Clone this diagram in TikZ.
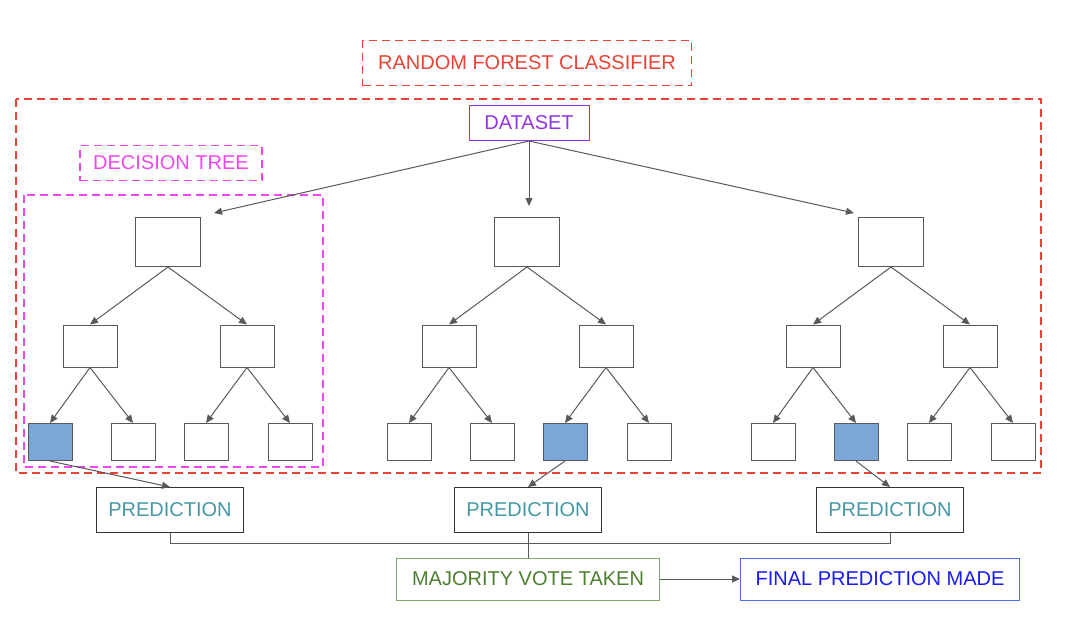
\documentclass[tikz,border=0pt]{standalone}
\usepackage{fontspec}
\setmainfont{Liberation Sans}
\usetikzlibrary{positioning,arrows.meta}
\definecolor{forestred}{HTML}{EA4335}
\definecolor{treepink}{HTML}{F046F0}
\definecolor{setpurple}{HTML}{9334E6}
\definecolor{predteal}{HTML}{4599A5}
\definecolor{votegreen}{HTML}{4E7F2F}
\definecolor{voteedge}{HTML}{7FAA66}
\definecolor{finalblue}{HTML}{1A1AF5}
\definecolor{finaledge}{HTML}{4A6CF0}
\definecolor{leafblue}{HTML}{7BA7D6}
\definecolor{linegray}{HTML}{595959}
\tikzset{arrow/.style={draw=linegray,->,>={Triangle[length=8pt,width=7pt]},line width=1pt,#1}}
\tikzset{arrow/.default={linegray}}
\tikzset{font={\fontsize{20pt}{24pt}\selectfont}}
\tikzset{treebox/.style={draw=linegray,fill=white,line width=1pt,inner sep=0pt}}
\tikzset{dashbox/.style={draw=#1,text=#1,line width=1.6pt,dash pattern=on 8pt off 5pt,inner sep=0pt}}
\tikzset{labelbox/.style={line width=1pt,inner sep=0pt,minimum height=#1}}
\begin{document}
\begin{tikzpicture}[x=1pt,y=-1pt]
        \useasboundingbox (0,0) rectangle (1080,635);
        \draw[dashbox=forestred] (16,99) rectangle (1041,473);
        \draw[dashbox=treepink] (24,195) rectangle (323,467);
        \node[dashbox=forestred,minimum width=329,minimum height=45] (title) at (527,63) {RANDOM FOREST CLASSIFIER};
        \node[labelbox=35,draw=setpurple,text=setpurple,minimum width=120] (data) at (529,123) {DATASET};
        \node[dashbox=treepink,minimum width=182,minimum height=35] (tree) at (171,163) {DECISION TREE};
        % three trees
        \foreach \t/\r/\hit in {1/168/1, 2/527/3, 3/891/2}{
            \node[treebox,minimum width=65,minimum height=49] (r\t) at (\r,242) {};
            \node[treebox,minimum width=54,minimum height=42] (m\t1) at ({\r-78},346) {};
            \node[treebox,minimum width=54,minimum height=42] (m\t2) at ({\r+79},346) {};
            \foreach \k/\dx in {1/-118, 2/-35, 3/38, 4/122}{
                \ifnum\k=\hit \def\leafcol{leafblue}\else\def\leafcol{white}\fi
                \node[treebox,fill=\leafcol,minimum width=44,minimum height=37] (l\t\k) at ({\r+\dx},442) {};
            }
            \path[arrow] (r\t.south) -- (m\t1.north);
            \path[arrow] (r\t.south) -- (m\t2.north);
            \path[arrow] (m\t1.south) -- (l\t1.north);
            \path[arrow] (m\t1.south) -- (l\t2.north);
            \path[arrow] (m\t2.south) -- (l\t3.north);
            \path[arrow] (m\t2.south) -- (l\t4.north);
        }
        \coordinate (e1) at (214,213);
        \coordinate (e2) at (529,206);
        \coordinate (e3) at (854,213);
        \foreach \t in {1,2,3}{
            \path[arrow] (data.south) -- (e\t);
        }
        % predictions
        \foreach \t/\x/\leaf in {1/170/11, 2/528/23, 3/890/32}{
            \node[labelbox=45,draw=black!80,text=predteal,minimum width=147] (p\t) at (\x,510) {PREDICTION};
            \path[arrow] (l\leaf.south) -- (p\t.north);
        }
        \node[labelbox=42,draw=voteedge,text=votegreen,minimum width=263] (vote) at (528,579) {MAJORITY VOTE TAKEN};
        \node[labelbox=42,draw=finaledge,text=finalblue,minimum width=279] (final) at (880,579) {FINAL PREDICTION MADE};
        \draw[linegray,line width=1pt] (p1.south) -- ++(0,10) -| (p3.south);
        \draw[linegray,line width=1pt] (p2.south) -- (vote.north);
        \path[arrow] (vote.east) -- (final.west);
    \end{tikzpicture}
\end{document}
